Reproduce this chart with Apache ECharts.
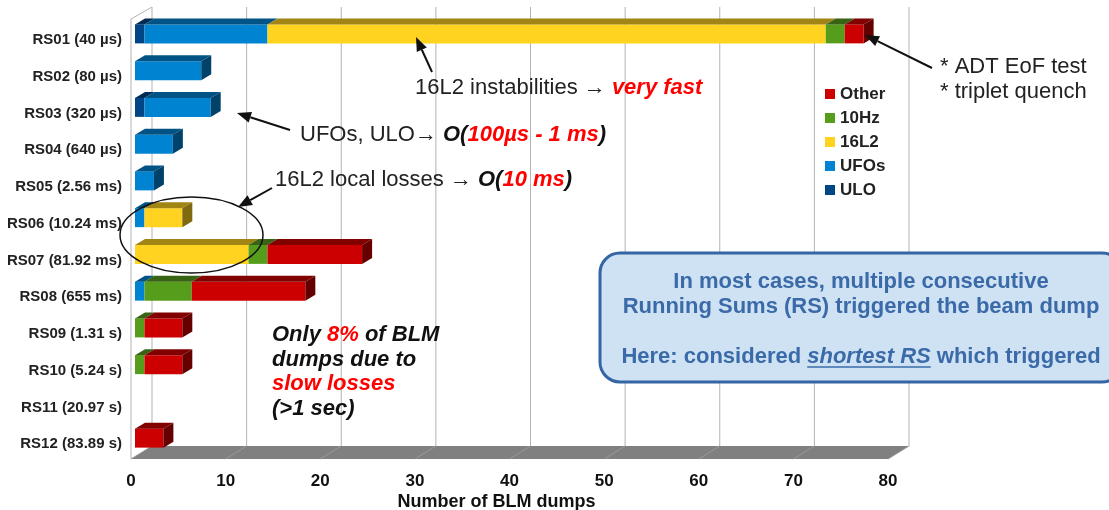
<!DOCTYPE html>
<html>
<head>
<meta charset="utf-8">
<script src="https://cdn.jsdelivr.net/npm/echarts@6/dist/echarts.min.js"></script>
<style>
  html, body { margin: 0; padding: 0; background: #fff; }
  #main { width: 1109px; height: 510px; }
</style>
</head>
<body>
<div id="main"></div>
<script>
// categories (running sums) and values
var categories = ['RS01 (40 µs)', 'RS02 (80 µs)', 'RS03 (320 µs)', 'RS04 (640 µs)',
  'RS05 (2.56 ms)', 'RS06 (10.24 ms)', 'RS07 (81.92 ms)', 'RS08 (655 ms)',
  'RS09 (1.31 s)', 'RS10 (5.24 s)', 'RS11 (20.97 s)', 'RS12 (83.89 s)'];
var ticks = [0, 10, 20, 30, 40, 50, 60, 70, 80];

var ulo   = [1, 0, 1, 0, 0, 0, 0, 0, 0, 0, 0, 0];
var ufos  = [13, 7, 7, 4, 2, 1, 0, 1, 0, 0, 0, 0];
var l16   = [59, 0, 0, 0, 0, 4, 12, 0, 0, 0, 0, 0];
var hz10  = [2, 0, 0, 0, 0, 0, 2, 5, 1, 1, 0, 0];
var other = [2, 0, 0, 0, 0, 0, 10, 12, 4, 4, 0, 3];

var chart = echarts.init(document.getElementById('main'));
var FONT = 'Liberation Sans';

var stacks = [
  { name: 'ULO',   values: ulo,   color: '#004586' },
  { name: 'UFOs',  values: ufos,  color: '#0084d1' },
  { name: '16L2',  values: l16,   color: '#ffd320' },
  { name: '10Hz',  values: hz10,  color: '#579d1c' },
  { name: 'Other', values: other, color: '#cc0000' }
];

function shade(hex, f) {
  var n = parseInt(hex.slice(1), 16);
  var r = Math.round(((n >> 16) & 255) * f), g = Math.round(((n >> 8) & 255) * f), b = Math.round((n & 255) * f);
  return 'rgb(' + r + ',' + g + ',' + b + ')';
}

var totals = categories.map(function (c, i) {
  return ulo[i] + ufos[i] + l16[i] + hz10[i] + other[i];
});
var running = categories.map(function () { return 0; });

// back walls + floor, positioned from the value scale
var backdrop = {
  type: 'custom',
  silent: true,
  z: 1,
  data: [[0, 0]],
  encode: { x: 0, y: 1 },
  renderItem: function (params, api) {
    var cs = params.coordSys;
    var gx = cs.x, gy = cs.y, gh = cs.height, fy = gy + gh;
    var D = 21, H = 13;
    var ch = [];
    var x0 = api.coord([ticks[0], 0])[0], x1 = api.coord([ticks[ticks.length - 1], 0])[0];
    ch.push({ type: 'polygon', shape: { points: [[x0, fy], [x1, fy], [x1 + D, fy - H], [x0 + D, fy - H]] },
      style: { fill: '#808080' } });
    ticks.forEach(function (v) {
      var x = api.coord([v, 0])[0];
      ch.push({ type: 'line', shape: { x1: x + D, y1: gy - 11, x2: x + D, y2: fy - H },
        style: { stroke: '#b3b3b3', lineWidth: 1 } });
      ch.push({ type: 'line', shape: { x1: x, y1: fy, x2: x + D, y2: fy - H },
        style: { stroke: '#999999', lineWidth: 1 } });
    });
    ch.push({ type: 'line', shape: { x1: gx, y1: gy + 1, x2: gx, y2: fy }, style: { stroke: '#b3b3b3', lineWidth: 1 } });
    ch.push({ type: 'line', shape: { x1: gx, y1: gy + 1, x2: gx + D, y2: gy - 11 }, style: { stroke: '#b3b3b3', lineWidth: 1 } });
    return { type: 'group', children: ch };
  }
};

function makeBar(color) {
  var top = shade(color, 0.63), side = shade(color, 0.5);
  return function (params, api) {
    var c = api.value(0);
    var a = api.coord([api.value(1), c]), b = api.coord([api.value(2), c]);
    var x0 = a[0] + 4, x1 = b[0] + 4, yt = a[1] - 12, yb = a[1] + 7, dx = 10, dy = 6;
    var children = [
      { type: 'rect', shape: { x: x0, y: yt, width: x1 - x0, height: yb - yt }, style: { fill: color } },
      { type: 'polygon', shape: { points: [[x0, yt], [x0 + dx, yt - dy], [x1 + dx, yt - dy], [x1, yt]] }, style: { fill: top } }
    ];
    if (api.value(3)) {
      children.push({ type: 'polygon', shape: { points: [[x1, yt], [x1 + dx, yt - dy], [x1 + dx, yb - dy], [x1, yb]] },
        style: { fill: side } });
    }
    return { type: 'group', children: children };
  };
}

var series = [backdrop];
stacks.forEach(function (s) {
  var data = [];
  s.values.forEach(function (v, i) {
    if (v > 0) {
      var end = running[i] + v;
      data.push([i, running[i], end, end === totals[i] ? 1 : 0]);
      running[i] = end;
    }
  });
  series.push({
    type: 'custom',
    name: s.name,
    z: 2,
    itemStyle: { color: s.color },
    encode: { x: [1, 2], y: 0 },
    data: data,
    renderItem: makeBar(s.color)
  });
});

function arrow(x1, y1, x2, y2) {
  var ang = Math.atan2(y2 - y1, x2 - x1), L = 14, W = 5.5;
  var bx = x2 - L * Math.cos(ang), by = y2 - L * Math.sin(ang);
  var px = -Math.sin(ang) * W, py = Math.cos(ang) * W;
  return [
    { type: 'line', z: 100, shape: { x1: x1, y1: y1, x2: bx, y2: by }, style: { stroke: '#111', lineWidth: 2 } },
    { type: 'polygon', z: 100, shape: { points: [[x2, y2], [bx + px, by + py], [bx - px, by - py]] }, style: { fill: '#111' } }
  ];
}

var FS = 22;
var redRich = {
  r: { fill: '#ff0000', fontStyle: 'italic', fontWeight: 'bold', fontSize: FS, fontFamily: FONT },
  b: { fill: '#111', fontStyle: 'italic', fontWeight: 'bold', fontSize: FS, fontFamily: FONT }
};

function note(x, y, text, extra) {
  var st = { text: text, x: 0, y: 0, fill: '#222', fontSize: FS, fontFamily: FONT, verticalAlign: 'middle', rich: redRich };
  if (extra) for (var k in extra) st[k] = extra[k];
  return { type: 'text', z: 100, x: x, y: y, style: st };
}

// underline position for "shortest RS" in the centred box line
var ctx = document.createElement('canvas').getContext('2d');
ctx.font = 'bold ' + FS + 'px ' + FONT;
var wA = ctx.measureText('Here: considered ').width, wC = ctx.measureText(' which triggered').width;
ctx.font = 'italic bold ' + FS + 'px ' + FONT;
var wB = ctx.measureText('shortest RS').width;
var uStart = 861 - (wA + wB + wC) / 2 + wA;

var boxText = '#3a6aa8';
var graphics = [
  { type: 'ellipse', z: 100, shape: { cx: 191.5, cy: 235, rx: 71.5, ry: 38 }, style: { fill: null, stroke: '#111', lineWidth: 1.5 } },
  note(415, 88, '16L2 instabilities → {r|very fast}'),
  note(300, 135, 'UFOs, ULO→ {b|O(}{r|100µs - 1 ms}{b|)}'),
  note(275, 180, '16L2 local losses → {b|O(}{r|10 ms}{b|)}'),
  note(940, 67, '* ADT EoF test'),
  note(940, 92, '* triplet quench'),
  note(272, 372, 'Only {r|8%} of BLM\ndumps due to\n{r|slow losses}\n(>1 sec)',
    { fill: '#111', fontStyle: 'italic', fontWeight: 'bold', lineHeight: 24.5 }),
  { type: 'rect', z: 100, shape: { x: 600, y: 253, width: 522, height: 129, r: 20 },
    style: { fill: '#cfe2f3', stroke: '#3465a4', lineWidth: 3 } },
  { type: 'text', z: 101, x: 861, y: 282, style: { text: 'In most cases, multiple consecutive', fill: boxText,
    fontSize: FS, fontWeight: 'bold', fontFamily: FONT, align: 'center', verticalAlign: 'middle' } },
  { type: 'text', z: 101, x: 861, y: 307, style: { text: 'Running Sums (RS) triggered the beam dump', fill: boxText,
    fontSize: FS, fontWeight: 'bold', fontFamily: FONT, align: 'center', verticalAlign: 'middle' } },
  { type: 'text', z: 101, x: 861, y: 357, style: { text: 'Here: considered {u|shortest RS} which triggered', fill: boxText,
    fontSize: FS, fontWeight: 'bold', fontFamily: FONT, align: 'center', verticalAlign: 'middle',
    rich: { u: { fill: boxText, fontSize: FS, fontWeight: 'bold', fontStyle: 'italic', fontFamily: FONT } } } },
  { type: 'line', z: 101, shape: { x1: uStart, y1: 367, x2: uStart + wB, y2: 367 }, style: { stroke: boxText, lineWidth: 1.5 } }
];
graphics = graphics.concat(arrow(432, 72, 416, 37), arrow(290, 130, 237, 113),
  arrow(272, 188, 238, 207), arrow(932, 68, 865, 35));

chart.setOption({
  animation: false,
  textStyle: { fontFamily: FONT },
  grid: { left: 131, right: 221, top: 18, bottom: 51, containLabel: false, outerBoundsMode: 'none' },
  legend: {
    data: ['Other', '10Hz', '16L2', 'UFOs', 'ULO'],
    orient: 'vertical',
    left: 825,
    top: 85,
    padding: 0,
    icon: 'rect',
    itemWidth: 10,
    itemHeight: 10,
    itemGap: 6,
    textStyle: { fontSize: 17, fontWeight: 'bold', color: '#222', lineHeight: 18, fontFamily: FONT }
  },
  xAxis: {
    type: 'value',
    min: 0,
    max: 80,
    interval: 10,
    name: 'Number of BLM dumps',
    nameLocation: 'middle',
    nameGap: 34,
    nameMoveOverlap: false,
    nameTextStyle: { fontSize: 18, fontWeight: 'bold', color: '#111', padding: [0, 26, 0, 0] },
    axisLine: { show: false },
    axisTick: { show: false },
    splitLine: { show: false },
    axisLabel: { fontSize: 17, fontWeight: 'bold', color: '#111', margin: 14 }
  },
  yAxis: {
    type: 'category',
    data: categories,
    inverse: true,
    axisLine: { show: false },
    axisTick: { show: false },
    axisLabel: { fontSize: 15, fontWeight: 'bold', color: '#222', margin: 9, verticalAlign: 'top', lineHeight: 7 }
  },
  series: series,
  graphic: { elements: graphics }
});
</script>
</body>
</html>
